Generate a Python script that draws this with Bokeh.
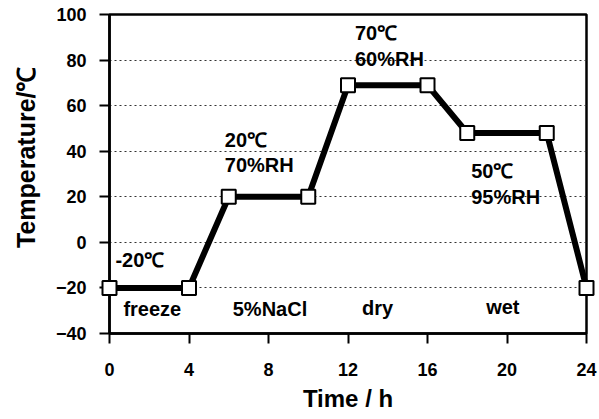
from bokeh.plotting import figure
from bokeh.models import Label, FixedTicker, Title
from bokeh.embed import file_html
from bokeh.resources import INLINE

time_h = [0, 4, 6, 10, 12, 16, 18, 22, 24]
temp_c = [-20, -20, 20, 20, 69, 69, 48, 48, -20]
x_ticks = [0, 4, 8, 12, 16, 20, 24]
y_ticks = [-40, -20, 0, 20, 40, 60, 80, 100]

FONT = "Liberation Sans"

p = figure(width=599, height=419, output_backend="svg", toolbar_location=None,
           x_range=(0, 24), y_range=(-40, 100))
p.min_border_left = 106
p.min_border_right = 13
p.min_border_top = 14
p.min_border_bottom = 86
p.background_fill_color = "white"
p.border_fill_color = "white"
p.outline_line_color = "black"
p.outline_line_width = 2.5

line = p.line(time_h, temp_c, line_color="black", line_width=6)
line.level = "overlay"
pts = p.scatter(time_h, temp_c, marker="square", size=14, fill_color="white",
                line_color="black", line_width=2)
pts.level = "overlay"

p.xaxis.ticker = FixedTicker(ticks=x_ticks)
p.yaxis.ticker = FixedTicker(ticks=y_ticks)
for ax in (p.xaxis[0], p.yaxis[0]):
    ax.axis_line_width = 2.5
    ax.axis_line_color = "black"
    ax.major_tick_line_width = 2
    ax.major_tick_line_color = "black"
    ax.major_tick_in = 0
    ax.major_tick_out = 10
    ax.minor_tick_line_color = None
    ax.major_label_text_font = FONT
    ax.major_label_text_font_style = "bold"
    ax.major_label_text_font_size = "18px"
    ax.major_label_text_color = "black"
    ax.axis_label_text_font = FONT
    ax.axis_label_text_font_style = "bold"
    ax.axis_label_text_font_size = "24px"
    ax.axis_label_text_color = "black"

p.xaxis.axis_label = "Time / h"
p.xaxis.major_label_standoff = 19
p.xaxis.axis_label_standoff = 6
p.yaxis.major_label_standoff = 13

ytitle = Title(text="Temperature/℃", align="right", offset=52, standoff=22,
               vertical_align="top",
               text_font=FONT, text_font_style="bold", text_font_size="25px",
               text_color="black")
p.add_layout(ytitle, "left")

p.xgrid.grid_line_color = None
p.ygrid.grid_line_color = "#333333"
p.ygrid.grid_line_dash = "2 3"
p.ygrid.grid_line_width = 1

annotations = [
    ("-20℃", 0.3, -7.8),
    ("freeze", 0.7, -29.3),
    ("5%NaCl", 6.2, -29.3),
    ("dry", 12.7, -29.0),
    ("wet", 18.95, -28.5),
    ("20℃", 5.8, 44.8),
    ("70%RH", 5.8, 33.8),
    ("70℃", 12.35, 91.7),
    ("60%RH", 12.35, 80.3),
    ("50℃", 18.2, 31.2),
    ("95%RH", 18.2, 19.8),
]
for txt, ax_, ay_ in annotations:
    p.add_layout(Label(x=ax_, y=ay_, text=txt, text_font=FONT, text_font_style="bold",
                       text_font_size="20px", text_color="black",
                       text_baseline="alphabetic", text_align="left"))

open("out.html", "w").write(file_html(p, INLINE))
